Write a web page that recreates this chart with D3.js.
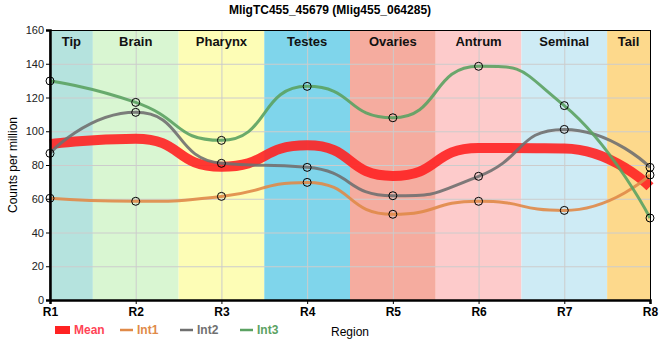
<!DOCTYPE html>
<html><head><meta charset="utf-8">
<script src="https://cdn.jsdelivr.net/npm/d3@7/dist/d3.min.js"></script>
<style>body{margin:0;background:#fff;} text{font-family:"Liberation Sans",Arial,sans-serif;}</style>
</head><body><svg id="c" width="660" height="360"></svg>
<script>
const regions = ["R1","R2","R3","R4","R5","R6","R7","R8"];
const bandNames = ["Tip","Brain","Pharynx","Testes","Ovaries","Antrum","Seminal","Tail"];
const bandColors = ["#b5e3de","#d9f6d2","#fdfdb6","#7fd5eb","#f5ac9f","#fdcbcb","#ceebf5","#fdd98c"];
const int1 = [60.3,58.5,61.4,69.7,50.8,58.5,53.1,74.1];
const int2 = [86.9,111.2,81.0,78.6,61.8,73.3,101.1,78.6];
const int3 = [129.8,117.1,94.6,126.6,108.0,138.5,115.2,48.6];
const mean = int1.map((v,i)=>(v+int2[i]+int3[i])/3);
const yTicks = [0,20,40,60,80,100,120,140,160];
const seriesNames = ["Mean","Int1","Int2","Int3"];
const seriesColors = ["#ff2222","#e08a48","#707070","#5ba262"];

// spline curve with clamped control points (no false extremes)
function SplineCurve(context){ this._context = context; }
SplineCurve.prototype = {
  areaStart(){}, areaEnd(){},
  lineStart(){ this._pts = []; },
  point(x,y){ this._pts.push([+x,+y]); },
  lineEnd(){
    const p = this._pts, n = p.length, c = this._context, sm = 0.8, den = sm+1;
    if(!n) return;
    const lc = [], rc = [];
    for(let i=1;i<n-1;i++){
      const [px,py]=p[i],[lx,ly]=p[i-1],[nx,ny]=p[i+1];
      let lcx=(sm*px+lx)/den, lcy=(sm*py+ly)/den, rcx=(sm*px+nx)/den, rcy=(sm*py+ny)/den;
      let corr = rcx!==lcx ? ((rcy-lcy)*(rcx-px))/(rcx-lcx)+py-rcy : 0;
      lcy+=corr; rcy+=corr;
      if(lcy>ly&&lcy>py){lcy=Math.max(ly,py);rcy=2*py-lcy;}
      else if(lcy<ly&&lcy<py){lcy=Math.min(ly,py);rcy=2*py-lcy;}
      if(rcy>ny&&rcy>py){rcy=Math.max(ny,py);lcy=2*py-rcy;}
      else if(rcy<ny&&rcy<py){rcy=Math.min(ny,py);lcy=2*py-rcy;}
      lc[i]=[lcx,lcy]; rc[i]=[rcx,rcy];
    }
    c.moveTo(p[0][0],p[0][1]);
    for(let i=1;i<n;i++){
      const a = rc[i-1]||p[i-1], b = lc[i]||p[i];
      c.bezierCurveTo(a[0],a[1],b[0],b[1],p[i][0],p[i][1]);
    }
  }
};
const curveSpline = ctx => new SplineCurve(ctx);

const svg = d3.select("#c");
const L=50,R=650,T=30,B=300;
const x = d3.scalePoint().domain(regions).range([L,R]);
const y = d3.scaleLinear().domain([0,160]).range([B,T]);
const step = x.step();

// bands
const bandEdges = regions.map((r,i)=>[Math.max(L,x(r)-step/2),Math.min(R,x(r)+step/2)]);
svg.append("g").selectAll("rect").data(bandNames).join("rect")
  .attr("x",(d,i)=>bandEdges[i][0]).attr("width",(d,i)=>bandEdges[i][1]-bandEdges[i][0])
  .attr("y",T).attr("height",B-T).attr("fill",(d,i)=>bandColors[i]);

// grid
const g = svg.append("g").attr("stroke","#cccccc").attr("stroke-width",1);
yTicks.forEach(t=>g.append("line").attr("x1",L).attr("x2",R).attr("y1",y(t)+0.5).attr("y2",y(t)+0.5));
regions.forEach(r=>g.append("line").attr("x1",x(r)+0.5).attr("x2",x(r)+0.5).attr("y1",T).attr("y2",B));

// band labels
svg.append("g").selectAll("text").data(bandNames).join("text")
  .attr("x",(d,i)=>(bandEdges[i][0]+bandEdges[i][1])/2).attr("y",T+16)
  .attr("text-anchor","middle").attr("font-size",13).attr("font-weight","bold").attr("fill","#111")
  .text(d=>d);

// lines
const line = d3.line().x((d,i)=>x(regions[i])).y(d=>y(d)).curve(curveSpline);
const all = [mean,int1,int2,int3];
all.forEach((s,k)=>{
  svg.append("path").attr("d",line(s)).attr("fill","none")
    .attr("stroke",seriesColors[k]).attr("stroke-width",k===0?10:3)
    .attr("stroke-opacity",0.9);
});
[int1,int2,int3].forEach(s=>{
  svg.append("g").selectAll("circle").data(s).join("circle")
    .attr("cx",(d,i)=>x(regions[i])).attr("cy",d=>y(d)).attr("r",4)
    .attr("fill","none").attr("stroke","#000").attr("stroke-width",1);
});

// frame
svg.append("rect").attr("x",L).attr("y",T+0.5).attr("width",R-L+0.5).attr("height",B-T)
  .attr("fill","none").attr("stroke","#000").attr("stroke-width",1);

// axes
const ya = svg.append("g").attr("transform",`translate(${L},0)`)
  .call(d3.axisLeft(y).tickValues(yTicks).tickSize(4).tickPadding(2));
ya.select(".domain").attr("stroke-width",2.5);
ya.selectAll("text").attr("font-size",11).attr("fill","#222").style("font-family","Liberation Sans, Arial, sans-serif");
const xa = svg.append("g").attr("transform",`translate(0,${B})`)
  .call(d3.axisBottom(x).tickSize(4).tickPadding(3));
xa.select(".domain").attr("stroke-width",2.5);
xa.selectAll("text").attr("font-size",12).attr("font-weight","bold").attr("fill","#000").style("font-family","Liberation Sans, Arial, sans-serif");

// title
svg.append("text").attr("x",330).attr("y",14).attr("text-anchor","middle")
  .attr("font-size",12).attr("font-weight","bold").text("MligTC455_45679 (Mlig455_064285)");
// y label
svg.append("text").attr("transform","translate(17,165) rotate(-90)").attr("text-anchor","middle")
  .attr("font-size",12).text("Counts per million");
// x label
svg.append("text").attr("x",331).attr("y",336).attr("font-size",12).text("Region");

// legend
const lx = [55,120,180,240];
seriesNames.forEach((n,k)=>{
  if(k===0) svg.append("rect").attr("x",lx[k]).attr("y",326).attr("width",15).attr("height",8).attr("fill",seriesColors[k]);
  else svg.append("line").attr("x1",lx[k]).attr("x2",lx[k]+13).attr("y1",330).attr("y2",330).attr("stroke",seriesColors[k]).attr("stroke-width",2.5);
  svg.append("text").attr("x",lx[k]+(k===0?19:17)).attr("y",334).attr("font-size",12).attr("font-weight","bold")
    .attr("fill",k===0?"#ff4455":seriesColors[k]).text(n);
});
</script></body></html>
